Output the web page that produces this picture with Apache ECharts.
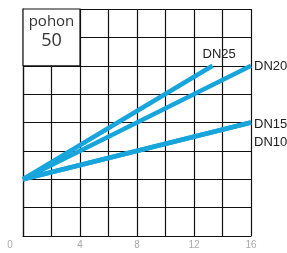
<!DOCTYPE html>
<html>
<head>
<meta charset="utf-8">
<script src="https://cdn.jsdelivr.net/npm/echarts@6/dist/echarts.min.js"></script>
<style>
  html, body { margin: 0; padding: 0; background: #fff; }
  #main { width: 287px; height: 253px; }
</style>
</head>
<body>
<div id="main"></div>
<script>
// x positions and y values
var xDN25 = [0, 13.3];
var yDN25 = [2, 6];
var xDN20 = [0, 16];
var yDN20 = [2, 6];
var xDN15 = [0, 16];
var yDN15 = [2, 4];
var xDN10 = [0, 16];
var yDN10 = [2, 4];
var xTicks = [0, 4, 8, 12, 16];

var lineColor = '#17a5dc';
var labelFont = "'Liberation Sans Narrow', 'Liberation Sans', sans-serif";

function pairs(xs, ys) {
  return xs.map(function (x, i) { return [x, ys[i]]; });
}

function makeSeries(name, xs, ys, offset) {
  return {
    name: name,
    type: 'line',
    data: pairs(xs, ys),
    symbol: 'none',
    silent: true,
    lineStyle: { color: lineColor, width: 4.5 },
    endLabel: {
      show: true,
      formatter: name,
      color: '#222',
      fontSize: 13,
      fontFamily: labelFont,
      distance: 3,
      offset: offset
    }
  };
}

var myChart = echarts.init(document.getElementById('main'));

var series = [
  makeSeries('DN10', xDN10, yDN10, [0, 20]),
  makeSeries('DN15', xDN15, yDN15, [0, 2]),
  makeSeries('DN20', xDN20, yDN20, [0, 1]),
  makeSeries('DN25', xDN25, yDN25, [-13, -11])
];

// white box in the top left corner with the title
series.push({
  type: 'line',
  data: [],
  silent: true,
  markArea: {
    silent: true,
    itemStyle: { color: '#fff', borderColor: '#111', borderWidth: 1.2 },
    label: {
      show: true,
      position: 'insideTop',
      distance: 5,
      formatter: '{a|pohon}\n{b|50}',
      rich: {
        a: { fontSize: 15, color: '#333', fontFamily: "'Open Sans', sans-serif", lineHeight: 17 },
        b: { fontSize: 18, color: '#333', fontFamily: "'Open Sans', sans-serif", lineHeight: 20 }
      }
    },
    data: [[{ coord: [0, 8] }, { coord: [4, 6] }]]
  }
});

var option = {
  animation: false,
  grid: { left: 23, right: 36, top: 9, bottom: 17 },
  xAxis: {
    type: 'value',
    min: 0,
    max: 16,
    interval: 2,
    axisLine: { lineStyle: { color: '#111', width: 1.2 } },
    axisTick: { show: false },
    splitLine: { lineStyle: { color: '#111', width: 1.2 } },
    axisLabel: {
      margin: 4,
      fontSize: 10,
      color: '#aaa',
      fontFamily: labelFont,
      formatter: function (v) {
        if (v === 0) return '{o|0}';
        return xTicks.indexOf(v) >= 0 ? String(v) : '';
      },
      rich: { o: { fontSize: 10, color: '#aaa', padding: [0, 26, 0, 0] } }
    }
  },
  yAxis: {
    type: 'value',
    min: 0,
    max: 8,
    interval: 1,
    axisLine: { show: true, lineStyle: { color: '#111', width: 1.2 } },
    axisTick: { show: false },
    axisLabel: { show: false },
    splitLine: { lineStyle: { color: '#111', width: 1.2 } }
  },
  series: series
};

myChart.setOption(option);
</script>
</body>
</html>
